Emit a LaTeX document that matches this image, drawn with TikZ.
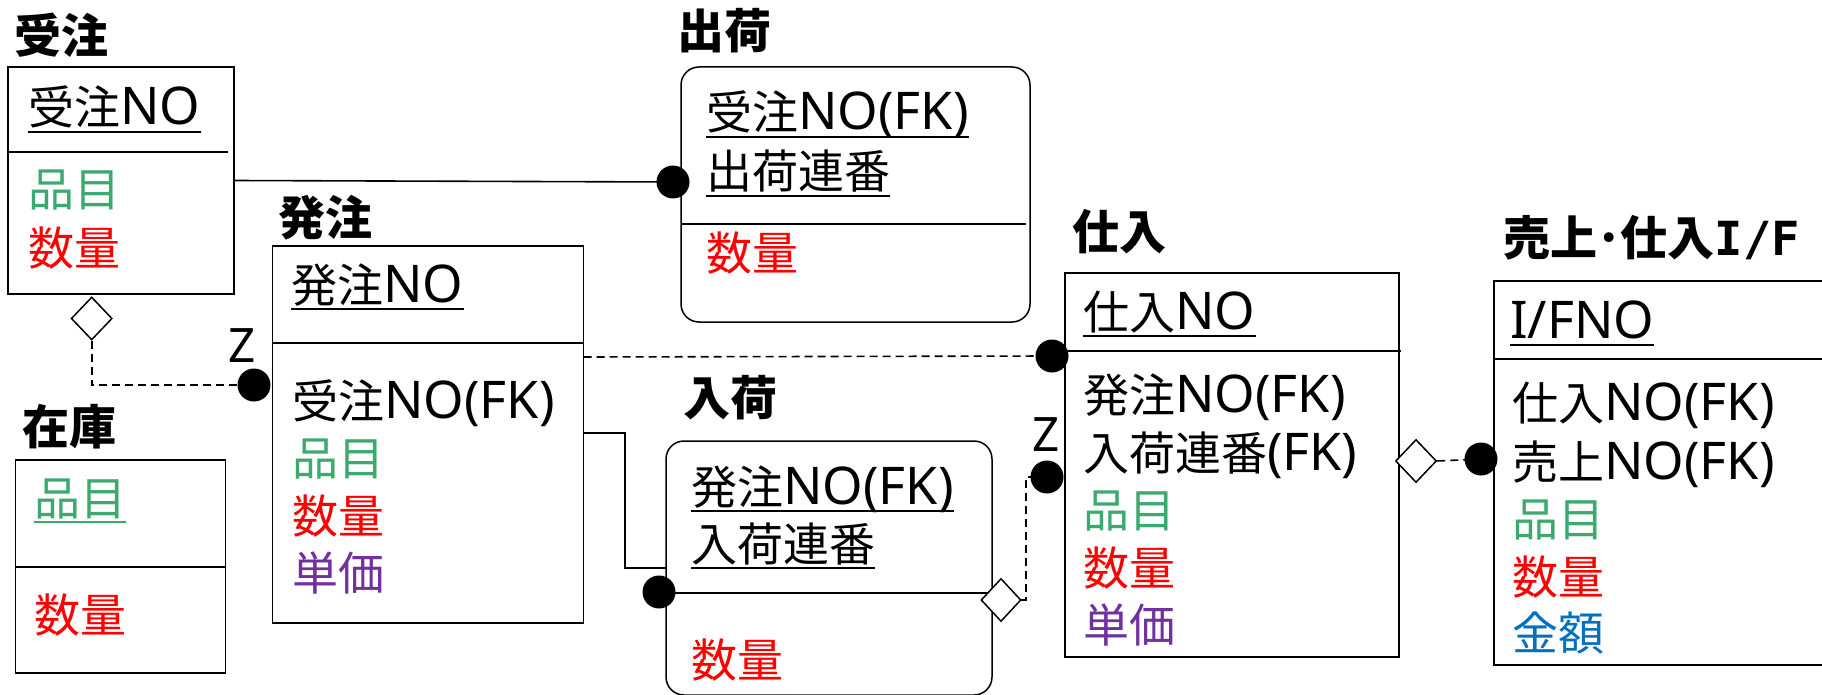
\documentclass[tikz,border=0pt]{standalone}
\usepackage{fontspec}
\usetikzlibrary{shapes.geometric}
\newfontfamily\jp{Noto Sans CJK JP}
\newfontfamily\lat{Noto Sans}[Scale=1.13]
\newfontfamily\mono{DejaVu Sans Mono}
\definecolor{itemgreen}{RGB}{60,170,110}
\definecolor{qtyred}{RGB}{255,0,0}
\definecolor{pricepurple}{RGB}{112,48,160}
\definecolor{amountblue}{RGB}{0,112,192}
\tikzset{
  entbox/.style={draw, line width=1.5pt, inner sep=0pt, outer sep=0pt},
  rentbox/.style={entbox, rounded corners=18pt},
  titletext/.style={anchor=base west, inner sep=0pt, font=\jp\bfseries\fontsize{47}{52}\selectfont},
  fieldtext/.style={anchor=base west, inner sep=0pt, font=\jp\fontsize{46}{52}\selectfont},
  ztext/.style={anchor=base west, inner sep=0pt, font=\lat\fontsize{42}{50}\selectfont},
  divline/.style={line width=1.5pt},
  relline/.style={line width=1.6pt},
  optline/.style={relline, dash pattern=on 8pt off 5pt},
  blackdot/.style={circle, fill=black, inner sep=0pt, minimum size=33pt},
  opendia/.style={diamond, draw, fill=white, line width=1.5pt, inner sep=0pt, minimum width=41pt, minimum height=43pt},
  uline/.style={line width=1.5pt},
}
\newcommand{\uln}[2][black]{\draw[uline,#1] ([yshift=-7pt]#2.base west) -- ([yshift=-7pt]#2.base east);}
\begin{document}
\begin{tikzpicture}[x=1pt,y=-1pt]
\useasboundingbox (0,0) rectangle (1822,695);
\clip (0,0) rectangle (1822,695);
\fill[white] (0,0) rectangle (1822,695);

% ---------- entity boxes ----------
\node[entbox, minimum width=226pt, minimum height=227pt] (juchu) at (121,180.5) {};
\node[rentbox, minimum width=349pt, minimum height=255pt] (shukka) at (855.5,194.5) {};
\node[entbox, minimum width=311pt, minimum height=377pt] (hacchu) at (428.2,434.5) {};
\node[entbox, minimum width=210pt, minimum height=213pt] (zaiko) at (120.6,566.5) {};
\node[rentbox, minimum width=326pt, minimum height=254pt] (nyuka) at (829,568) {};
\node[entbox, minimum width=334pt, minimum height=384pt] (shiire) at (1232,465) {};
\node[entbox, minimum width=341pt, minimum height=384pt] (iftab) at (1664.5,473) {};

% dividers
\draw[divline] (juchu.west |- 0,152) -- (228,152);
\draw[divline] (shukka.west |- 0,224) -- (1026,224);
\draw[divline] (hacchu.west |- 0,343) -- (hacchu.east |- 0,343);
\draw[divline] (zaiko.west |- 0,567) -- (zaiko.east |- 0,567);
\draw[divline] (nyuka.west |- 0,593) -- (nyuka.east |- 0,593);
\draw[divline] (shiire.west |- 0,351) -- (1401,351);
\draw[divline] (iftab.west |- 0,359) -- (iftab.east |- 0,359);

% ---------- titles ----------
\node[titletext] (tjuchu) at (14,54) {受注};
\node[titletext] (tshukka) at (677,49) {出荷};
\node[titletext] (thacchu) at (278,235) {発注};
\node[titletext] (tzaiko) at (22,444) {在庫};
\node[titletext] (tnyuka) at (683,415) {入荷};
\node[titletext] (tshiire) at (1072,249) {仕入};
\node[titletext] (tif) at (1503,255) {売上･仕入{\mono\bfseries I/F}};

% ---------- fields ----------
% 受注
\node[fieldtext] (jno) at (28,125) {受注{\lat NO}}; \uln{jno}
\node[fieldtext, text=itemgreen] (jhin) at (28,207) {品目};
\node[fieldtext, text=qtyred] (jsu) at (28,265) {数量};
% 出荷
\node[fieldtext] (sjno) at (706,130) {受注{\lat NO(FK)}}; \uln{sjno}
\node[fieldtext] (sren) at (706,189) {出荷連番}; \uln{sren}
\node[fieldtext, text=qtyred] (ssu) at (706,270) {数量};
% 発注
\node[fieldtext] (hno) at (291,302) {発注{\lat NO}}; \uln{hno}
\node[fieldtext] (hjno) at (292,418) {受注{\lat NO(FK)}};
\node[fieldtext, text=itemgreen] (hhin) at (292,475) {品目};
\node[fieldtext, text=qtyred] (hsu) at (292,533) {数量};
\node[fieldtext, text=pricepurple] (htan) at (292,590) {単価};
% 在庫
\node[fieldtext, text=itemgreen] (zhin) at (34,515) {品目}; \uln[itemgreen]{zhin}
\node[fieldtext, text=qtyred] (zsu) at (34,632) {数量};
% 入荷
\node[fieldtext] (nhno) at (691,504) {発注{\lat NO(FK)}}; \uln{nhno}
\node[fieldtext] (nren) at (691,561) {入荷連番}; \uln{nren}
\node[fieldtext, text=qtyred] (nsu) at (691,677) {数量};
% 仕入
\node[fieldtext] (sino) at (1083,329) {仕入{\lat NO}}; \uln{sino}
\node[fieldtext] (sihno) at (1083,412) {発注{\lat NO(FK)}};
\node[fieldtext] (siren) at (1083,470) {入荷連番{\lat (FK)}};
\node[fieldtext, text=itemgreen] (sihin) at (1083,527) {品目};
\node[fieldtext, text=qtyred] (sisu) at (1083,585) {数量};
\node[fieldtext, text=pricepurple] (sitan) at (1083,642) {単価};
% 売上・仕入I/F
\node[fieldtext] (ifno) at (1510,338) {\lat I/FNO}; \uln{ifno}
\node[fieldtext] (ifsi) at (1512,420) {仕入{\lat NO(FK)}};
\node[fieldtext] (ifur) at (1512,479) {売上{\lat NO(FK)}};
\node[fieldtext, text=itemgreen] (ifhin) at (1512,536) {品目};
\node[fieldtext, text=qtyred] (ifsu) at (1512,594) {数量};
\node[fieldtext, text=amountblue] (ifkin) at (1512,650) {金額};

% ---------- connector anchor points ----------
\coordinate (c1) at (673,182);
\coordinate (c2) at (254,385);
\coordinate (c3) at (1052,356);
\coordinate (c4) at (659,592);
\coordinate (c5) at (1047,477);
\coordinate (c6) at (1481,459);
\coordinate (bend4a) at (625,433);
\coordinate (bend4b) at (625,568);
\coordinate (bend5) at (1026,600);

% diamonds
\node[opendia] (m1) at (91.7,318.5) {};
\node[opendia] (m3) at (1416,461) {};

% ---------- connectors ----------
\draw[relline] (juchu.east) -- (c1);
\draw[optline] (m1.south) |- (c2);
\draw[optline] (hacchu.east |- 0,357) -- (c3);
\draw[relline] (hacchu.east |- bend4a) -- (bend4a) -- (bend4b) -- (nyuka.west |- bend4b);
\draw[optline] (1021,600) -- (bend5) |- (c5);
\draw[optline] (m3.east) -- (c6);

\node[opendia, minimum width=40pt] (m2) at (1001,600) {};

% dots
\node[blackdot] (dot1) at (c1) {};
\node[blackdot] (dot2) at (c2) {};
\node[blackdot] (dot3) at (c3) {};
\node[blackdot] (dot4) at (c4) {};
\node[blackdot] (dot5) at (c5) {};
\node[blackdot] (dot6) at (c6) {};

% Z labels
\node[ztext] (z1) at (228,362) {Z};
\node[ztext] (z2) at (1032,451) {Z};
\end{tikzpicture}
\end{document}
